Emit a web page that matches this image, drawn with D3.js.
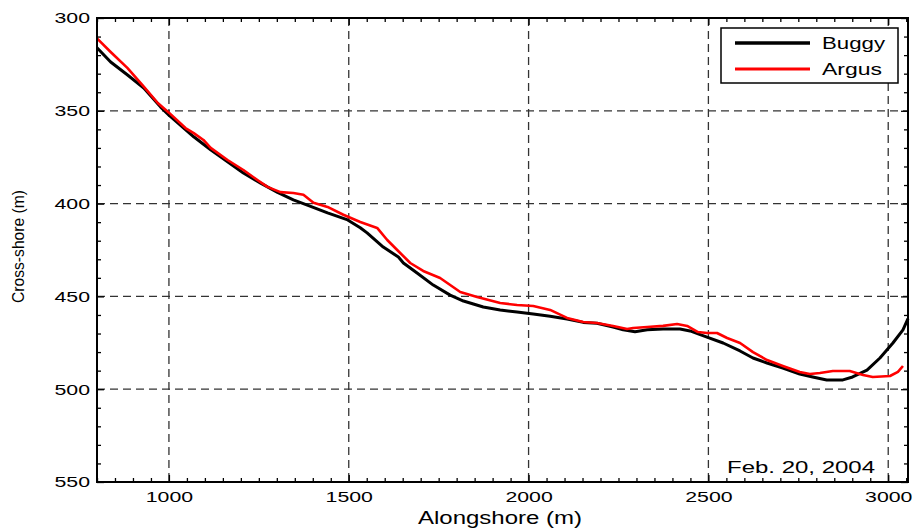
<!DOCTYPE html>
<html><head><meta charset="utf-8">
<script src="https://cdn.jsdelivr.net/npm/d3@7"></script>
<style>body{margin:0;background:#fff}svg{display:block}text{font-family:Arial,"Liberation Sans",sans-serif;fill:#000}</style>
</head><body><svg id="c" width="920" height="531"></svg>
<script>
const buggyX=[800,838,885,930,977,1000,1069,1116,1163,1207,1255,1302,1346,1394,1441,1497,1532,1551,1596,1638,1652,1690,1735,1782,1819,1874,1921,1968,2013,2060,2107,2152,2190,2235,2263,2296,2330,2374,2421,2449,2496,2541,2588,2624,2663,2707,2754,2790,2829,2874,2901,2941,2977,3013,3041,3055];
const buggyY=[316,323.7,330.7,337.7,348,352.3,364,371,377.5,383.5,389,394,398,401.5,405,408.8,413,415.8,423.4,428.8,432,437.4,443.9,449.3,452.5,455.7,457.3,458.4,459.5,460.7,462.2,464,464.5,466.5,468,469,468,467.6,467.6,468.6,471.9,475.1,479.4,483.2,485.9,488.6,491.8,493.4,495,495,493.4,489.7,483.2,475.1,468,462];
const argusX=[800,838,885,930,969,1000,1046,1069,1096,1116,1163,1207,1246,1274,1310,1346,1374,1402,1441,1485,1532,1579,1607,1643,1671,1707,1754,1810,1857,1921,1968,2013,2060,2107,2152,2190,2235,2274,2291,2330,2374,2413,2441,2471,2496,2524,2552,2588,2624,2663,2707,2754,2782,2810,2846,2893,2930,2957,3005,3027,3041];
const argusY=[311,318.3,327,337,345.8,351,359.3,362,365.7,370,376.5,381.9,387.3,391,393.8,394.3,395.2,399.5,401.8,406,409.9,413.1,419.6,426.6,432,436.3,440.1,447.6,450.3,453.6,454.6,455.2,457.3,461.6,463.8,464.3,465.9,467.6,467,466.5,465.9,464.9,465.9,469.2,469.7,469.7,472.4,475.1,480,484.3,487.5,490.7,491.8,491.3,490.2,490.2,492.3,493.4,492.9,490.7,487.5];
const xTicks=[1000,1500,2000,2500,3000];
const yTicks=[300,350,400,450,500,550];
const seriesNames=["Buggy","Argus"];
const dateLabel="Feb. 20, 2004";
const xTitle="Alongshore (m)", yTitle="Cross-shore (m)";

const L=97,R=908,T=18,B=482;
const svg=d3.select("#c");
const x=d3.scaleLinear().domain([800,3055]).range([L,R]);
const y=d3.scaleLinear().domain([300,550]).range([T,B]);

// grid
const g=svg.append("g");
g.selectAll(".vx").data(xTicks).join("line").attr("x1",d=>x(d)).attr("x2",d=>x(d)).attr("y1",T).attr("y2",B)
 .attr("stroke","#333").attr("stroke-width",1.3).attr("stroke-dasharray","8,5");
g.selectAll(".hy").data(yTicks.filter(v=>v>300&&v<550)).join("line").attr("y1",d=>y(d)).attr("y2",d=>y(d)).attr("x1",L).attr("x2",R)
 .attr("stroke","#333").attr("stroke-width",1.3).attr("stroke-dasharray","8,5");

// ticks (inward) via axes
const xMinor=d3.range(800,3056,50).filter(v=>!xTicks.includes(v));
const yMinor=d3.range(300,551,10).filter(v=>!yTicks.includes(v));
function styleAx(sel){sel.select(".domain").remove();sel.selectAll("line").attr("stroke","#000").attr("stroke-width",1.3);}
svg.append("g").attr("transform",`translate(0,${B})`).call(d3.axisTop(x).tickValues(xMinor).tickSize(4).tickFormat("")).call(styleAx);
svg.append("g").attr("transform",`translate(0,${T})`).call(d3.axisBottom(x).tickValues(xMinor).tickSize(4).tickFormat("")).call(styleAx);
svg.append("g").attr("transform",`translate(0,${B})`).call(d3.axisTop(x).tickValues(xTicks).tickSize(7).tickFormat("")).call(styleAx);
svg.append("g").attr("transform",`translate(0,${T})`).call(d3.axisBottom(x).tickValues(xTicks).tickSize(7).tickFormat("")).call(styleAx);
svg.append("g").attr("transform",`translate(${L},0)`).call(d3.axisRight(y).tickValues(yMinor).tickSize(4).tickFormat("")).call(styleAx);
svg.append("g").attr("transform",`translate(${R},0)`).call(d3.axisLeft(y).tickValues(yMinor).tickSize(4).tickFormat("")).call(styleAx);
svg.append("g").attr("transform",`translate(${L},0)`).call(d3.axisRight(y).tickValues(yTicks).tickSize(7).tickFormat("")).call(styleAx);
svg.append("g").attr("transform",`translate(${R},0)`).call(d3.axisLeft(y).tickValues(yTicks).tickSize(7).tickFormat("")).call(styleAx);

// tick labels via axes
const SX=1.42;
const xa=svg.append("g").attr("transform",`translate(0,${B})`).call(d3.axisBottom(x).tickValues(xTicks).tickFormat(d3.format("d")).tickSize(0).tickPadding(9));
xa.select(".domain").remove();
xa.selectAll("text").attr("font-size",15).attr("font-family","Arial").attr("transform",`scale(${SX},1)`);
const ya=svg.append("g").attr("transform",`translate(${L},0)`).call(d3.axisLeft(y).tickValues(yTicks).tickFormat(d3.format("d")).tickSize(0));
ya.select(".domain").remove();
ya.selectAll("text").attr("font-size",15).attr("font-family","Arial").attr("x",-7/SX).attr("transform",`scale(${SX},1)`);

// lines
const line=d3.line().x(d=>x(d[0])).y(d=>y(d[1]));
const bData=buggyX.map((v,i)=>[v,buggyY[i]]);
const aData=argusX.map((v,i)=>[v,argusY[i]]);
svg.append("path").datum(bData).attr("d",line).attr("fill","none").attr("stroke","#000").attr("stroke-width",3).attr("stroke-linejoin","round");
svg.append("path").datum(aData).attr("d",line).attr("fill","none").attr("stroke","#ff0000").attr("stroke-width",2.6).attr("stroke-linejoin","round");

// frame
svg.append("rect").attr("x",L).attr("y",T).attr("width",R-L).attr("height",B-T).attr("fill","none").attr("stroke","#000").attr("stroke-width",2);

// legend
const lg=svg.append("g");
lg.append("rect").attr("x",721).attr("y",28).attr("width",177).attr("height",55).attr("fill","#fff").attr("stroke","#000").attr("stroke-width",1.5);
const colors=["#000","#ff0000"];
seriesNames.forEach((n,i)=>{
  const yy=43+i*26;
  lg.append("line").attr("x1",735).attr("x2",810).attr("y1",yy).attr("y2",yy).attr("stroke",colors[i]).attr("stroke-width",i?3:3.5);
  lg.append("text").attr("x",822).attr("y",yy+5.5).attr("font-size",17).attr("textLength",i?60:63).attr("lengthAdjust","spacingAndGlyphs").text(n);
});

// annotation and titles
svg.append("text").attr("x",727).attr("y",473).attr("font-size",17).attr("textLength",148).attr("lengthAdjust","spacingAndGlyphs").text(dateLabel);
svg.append("text").attr("x",418).attr("y",524).attr("font-size",18).attr("textLength",164).attr("lengthAdjust","spacingAndGlyphs").text(xTitle);
svg.append("text").attr("transform","translate(24,303) rotate(-90)").attr("font-size",17).attr("textLength",113).attr("lengthAdjust","spacingAndGlyphs").text(yTitle);
</script></body></html>
